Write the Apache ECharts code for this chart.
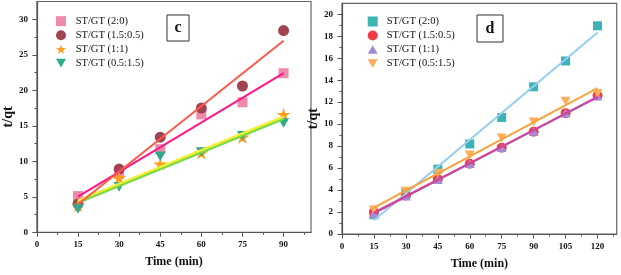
<!DOCTYPE html>
<html><head><meta charset="utf-8">
<script src="https://cdn.jsdelivr.net/npm/echarts@6/dist/echarts.min.js"></script>
<style>html,body{margin:0;padding:0;background:#fff}#c{width:621px;height:275px}</style>
</head><body><div id="c"></div>
<script>
// ---- data ----
const xC = [15, 30, 45, 60, 75, 90];
const c_20   = [5.1, 8.2, 11.7, 16.6, 18.3, 22.4];
const c_1505 = [4.0, 8.9, 13.4, 17.5, 20.6, 28.4];
const c_11   = [3.8, 7.7, 9.6, 11.2, 13.4, 16.6];
const c_0515 = [3.3, 6.4, 10.7, 11.3, 13.6, 15.4];

const xD = [15, 30, 45, 60, 75, 90, 105, 120];
const d_20   = [1.75, 3.8, 5.9, 8.2, 10.6, 13.4, 15.75, 18.95];
const d_1505 = [2.0, 3.5, 5.0, 6.4, 7.85, 9.3, 11.0, 12.6];
const d_11   = [1.85, 3.45, 4.95, 6.4, 7.85, 9.35, 11.0, 12.55];
const d_0515 = [2.2, 3.9, 5.55, 7.2, 8.75, 10.2, 12.1, 12.8];

const names = ['ST/GT (2:0)', 'ST/GT (1.5:0.5)', 'ST/GT (1:1)', 'ST/GT (0.5:1.5)'];
const xTicksC = [0, 15, 30, 45, 60, 75, 90];
const yTicksC = [0, 5, 10, 15, 20, 25, 30];
const xTicksD = [0, 15, 30, 45, 60, 75, 90, 105, 120];
const yTicksD = [0, 2, 4, 6, 8, 10, 12, 14, 16, 18, 20];

// ---- helpers ----
function pairs(xs, ys) { return xs.map((x, i) => [x, ys[i]]); }
function fit(xs, ys) {
  const n = xs.length;
  const mx = xs.reduce((a, b) => a + b, 0) / n, my = ys.reduce((a, b) => a + b, 0) / n;
  let sxy = 0, sxx = 0;
  for (let i = 0; i < n; i++) { sxy += (xs[i] - mx) * (ys[i] - my); sxx += (xs[i] - mx) ** 2; }
  const b = sxy / sxx, a = my - b * mx;
  const x0 = Math.min(...xs), x1 = Math.max(...xs);
  return [[x0, a + b * x0], [x1, a + b * x1]];
}
const STAR = 'path://M50,0 L61,35 L98,35 L68,57 L79,91 L50,70 L21,91 L32,57 L2,35 L39,35 Z';
const TDOWN = 'path://M0,0 L100,0 L50,87 Z';
const TUP = 'path://M50,0 L100,87 L0,87 Z';

const FONT = 'Liberation Serif';
const axisCol = '#555';

function xAxisCfg(grid, max, ticks, gap) {
  return {
    type: 'value', gridIndex: grid, min: 0, max: max, interval: 15,
    name: 'Time (min)', nameLocation: 'middle', nameGap: gap,
    nameTextStyle: { fontFamily: FONT, fontWeight: 'bold', fontSize: 12, color: '#111' },
    axisLine: { show: true, onZero: false, lineStyle: { color: axisCol, width: 1.2 } },
    axisTick: { show: true, inside: false, length: 4.5, customValues: ticks, lineStyle: { color: axisCol, width: 1 } },
    minorTick: { show: true, splitNumber: 2, length: 2.5, lineStyle: { color: axisCol, width: 1 } },
    axisLabel: { customValues: ticks, margin: 8, fontFamily: FONT, fontWeight: 'bold', fontSize: 9, color: '#111' },
    splitLine: { show: false }, minorSplitLine: { show: false }
  };
}
function yAxisCfg(grid, max, interval, ticks, gap) {
  return {
    type: 'value', gridIndex: grid, min: 0, max: max, interval: interval,
    name: 't/qt', nameLocation: 'middle', nameGap: gap,
    nameTextStyle: { fontFamily: FONT, fontWeight: 'bold', fontSize: 14, color: '#111' },
    axisLine: { show: true, onZero: false, lineStyle: { color: axisCol, width: 1.2 } },
    axisTick: { show: true, inside: false, length: 4.5, customValues: ticks, lineStyle: { color: axisCol, width: 1 } },
    minorTick: { show: true, splitNumber: 2, length: 2.5, lineStyle: { color: axisCol, width: 1 } },
    axisLabel: { customValues: ticks, margin: 9, fontFamily: FONT, fontWeight: 'bold', fontSize: 9, color: '#111' },
    splitLine: { show: false }, minorSplitLine: { show: false }
  };
}
function scatter(name, grid, xs, ys, symbol, size, color) {
  return { type: 'scatter', name: name, xAxisIndex: grid, yAxisIndex: grid, data: pairs(xs, ys),
    symbol: symbol, symbolSize: size, symbolKeepAspect: true, itemStyle: { color: color, opacity: 1 }, z: 2 };
}
function fitLine(grid, xs, ys, color, width) {
  return { type: 'line', xAxisIndex: grid, yAxisIndex: grid, data: fit(xs, ys), showSymbol: false, symbol: 'none',
    lineStyle: { color: color, width: width }, z: 3, silent: true };
}

// colours
const cCol = ['#ef8aaa', '#9f4450', '#ff9b1e', '#31a98b'];
const cLine = ['#ff1687', '#ff5848', '#f4ee30', '#78da48'];
const dCol = ['#3db3b3', '#f23b47', '#a98ad2', '#fcae5c'];
const dLine = ['#96cdf2', '#ee3a4c', '#c24aae', '#f8a23c'];

const legendText = { fontFamily: FONT, fontSize: 10.5, color: '#111', lineHeight: 10 };

const option = {
  animation: false,
  backgroundColor: '#fff',
  grid: [
    { left: 31.7, top: 1.5, width: 279.3, height: 230.8, show: true, borderColor: '#666', borderWidth: 1.2, backgroundColor: 'transparent' },
    { left: 342, top: 3.3, width: 274.7, height: 233.4, show: true, borderColor: '#666', borderWidth: 1.2, backgroundColor: 'transparent' }
  ],
  xAxis: [xAxisCfg(0, 100, xTicksC, 24), xAxisCfg(1, 129, xTicksD, 24)],
  yAxis: [yAxisCfg(0, 32.5, 5, yTicksC, 17), yAxisCfg(1, 21, 2, yTicksD, 16)],
  legend: [
    { orient: 'vertical', left: 51, top: 10.7, padding: 5, itemWidth: 10, itemHeight: 10, itemGap: 3,
      textStyle: Object.assign({ padding: [0, 0, 0, 4.7] }, legendText),
      data: [
        { name: names[0], icon: 'rect', itemStyle: { color: cCol[0] } },
        { name: names[1], icon: 'circle', itemStyle: { color: cCol[1] } },
        { name: names[2], icon: STAR, itemStyle: { color: cCol[2] } },
        { name: names[3], icon: TDOWN, itemStyle: { color: cCol[3] } }
      ] },
    { orient: 'vertical', left: 362.7, top: 11, padding: 5, itemWidth: 10, itemHeight: 10, itemGap: 3,
      textStyle: Object.assign({ padding: [0, 0, 0, 4] }, legendText),
      data: [
        { name: names[0], icon: 'rect', itemStyle: { color: dCol[0] } },
        { name: names[1], icon: 'circle', itemStyle: { color: dCol[1] } },
        { name: names[2], icon: TUP, itemStyle: { color: dCol[2] } },
        { name: names[3], icon: TDOWN, itemStyle: { color: dCol[3] } }
      ] }
  ],
  graphic: [
    { type: 'rect', shape: { x: 167, y: 15, width: 22, height: 26 }, style: { fill: '#fff', stroke: '#333', lineWidth: 1 } },
    { type: 'text', x: 178, y: 28, style: { text: 'c', font: 'bold 16px "Liberation Serif"', fill: '#111', textAlign: 'center', textVerticalAlign: 'middle' } },
    { type: 'rect', shape: { x: 477, y: 15, width: 26, height: 27 }, style: { fill: '#fff', stroke: '#333', lineWidth: 1 } },
    { type: 'text', x: 490, y: 28.5, style: { text: 'd', font: 'bold 16px "Liberation Serif"', fill: '#111', textAlign: 'center', textVerticalAlign: 'middle' } }
  ],
  series: [
    scatter(names[0], 0, xC, c_20, 'rect', 10, cCol[0]),
    scatter(names[1], 0, xC, c_1505, 'circle', 11, cCol[1]),
    scatter(names[2], 0, xC, c_11, STAR, 14, cCol[2]),
    scatter(names[3], 0, xC, c_0515, TDOWN, 11, cCol[3]),
    fitLine(0, xC, c_0515, cLine[3], 3),
    fitLine(0, xC, c_11, cLine[2], 2.2),
    fitLine(0, xC, c_20, cLine[0], 2),
    fitLine(0, xC, c_1505, cLine[1], 2),

    scatter(names[0], 1, xD, d_20, 'rect', 9, dCol[0]),
    scatter(names[1], 1, xD, d_1505, 'circle', 10, dCol[1]),
    scatter(names[2], 1, xD, d_11, TUP, 10, dCol[2]),
    scatter(names[3], 1, xD, d_0515, TDOWN, 10, dCol[3]),
    fitLine(1, xD, d_20, dLine[0], 2),
    fitLine(1, xD, d_0515, dLine[3], 2),
    fitLine(1, xD, d_1505, dLine[1], 2),
    fitLine(1, xD, d_11, dLine[2], 2)
  ]
};
const chart = echarts.init(document.getElementById('c'), null, { renderer: 'canvas' });
chart.setOption(option);
</script>
</body></html>
